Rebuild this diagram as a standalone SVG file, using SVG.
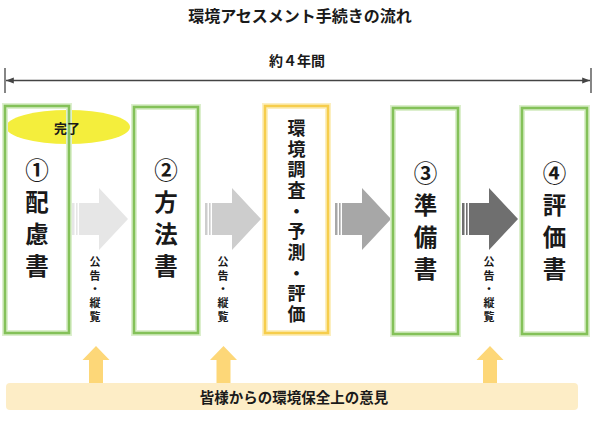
<svg xmlns="http://www.w3.org/2000/svg" width="600" height="423" viewBox="0 0 600 423">
<style>
text{font-family:"Noto Sans CJK JP","Noto Sans",sans-serif;font-weight:bold;fill:#1a1a1a;text-anchor:middle;dominant-baseline:central}
.v{writing-mode:vertical-rl;text-anchor:start;text-orientation:upright}
.glow{fill:none;stroke-width:6}
.g{stroke:#dcefcd}
.y{stroke:#fcefc0}
.gb{fill:none;stroke:#84c159;stroke-width:2.6}
.yb{fill:none;stroke:#f6cd4c;stroke-width:2.6}
.big{font-size:23.5px;letter-spacing:8.5px}
.mid{font-size:18px;letter-spacing:2.7px}
.sm{font-size:11px;letter-spacing:2.6px}
.up{fill:#fdd778}
</style>
<defs>
<g id="sarrow">
<rect x="0" y="-16" width="2.5" height="32"/>
<rect x="4" y="-16" width="1.6" height="32"/>
<path d="M7,-16 H27 V-31 L56,0 L27,31 V16 H7 Z"/>
</g>
<path id="uparrow" d="M-7,0 V-23 H-13.5 L0,-37 L13.5,-23 H7 V0 Z"/>
<marker id="dimhead" viewBox="0 0 8 8" refX="8" refY="4" markerWidth="6" markerHeight="6" orient="auto-start-reverse">
<path d="M0,1 L8,4 L0,7 Z" fill="#444"/>
</marker>
</defs>
<rect width="600" height="423" fill="#fff"/>
<g id="title"><text x="300" y="15" style="font-size:16px">環境アセスメント手続きの流れ</text></g>
<g id="duration">
<text x="297" y="60" style="font-size:14px">約４年間</text>
<line x1="6" y1="80.5" x2="590" y2="80.5" stroke="#444" stroke-width="1.3" marker-start="url(#dimhead)" marker-end="url(#dimhead)"/>
<line x1="5" y1="68" x2="5" y2="93" stroke="#444" stroke-width="1.3"/>
<line x1="591" y1="68" x2="591" y2="93" stroke="#444" stroke-width="1.3"/>
</g>
<g id="connectors">
<use href="#sarrow" transform="translate(72,219)" fill="#e6e6e6"/>
<use href="#sarrow" transform="translate(205,219)" fill="#cdcdcd"/>
<use href="#sarrow" transform="translate(335,219)" fill="#a7a7a7"/>
<use href="#sarrow" transform="translate(462,219)" fill="#6f6f6f"/>
<text class="v sm" x="95" y="256.5">公告・縦覧</text>
<text class="v sm" x="223" y="256.5">公告・縦覧</text>
<text class="v sm" x="489" y="256.5">公告・縦覧</text>
<use href="#uparrow" class="up" transform="translate(96,383)"/>
<use href="#uparrow" class="up" transform="translate(223.5,383)"/>
<use href="#uparrow" class="up" transform="translate(490,383)"/>
</g>
<g id="node-hairyo">
<ellipse cx="68" cy="127" rx="62" ry="17" fill="#f4ee3c"/>
<rect class="glow g" x="5" y="106" width="64" height="227"/>
<rect class="gb" x="5" y="106" width="64" height="227"/>
<text x="67" y="127" style="font-size:13px">完了</text>
<text class="v big" x="37" y="158">①配慮書</text>
</g>
<g id="node-houhou">
<rect class="glow g" x="134" y="107" width="64" height="226"/>
<rect class="gb" x="134" y="107" width="64" height="226"/>
<text class="v big" x="166" y="158">②方法書</text>
</g>
<g id="node-chousa">
<rect class="glow y" x="265" y="106" width="63" height="227"/>
<rect class="yb" x="265" y="106" width="63" height="227"/>
<text class="v mid" x="296.5" y="119">環境調査・予測・評価</text>
</g>
<g id="node-junbi">
<rect class="glow g" x="393" y="108" width="65" height="226"/>
<rect class="gb" x="393" y="108" width="65" height="226"/>
<text class="v big" x="425.5" y="161">③準備書</text>
</g>
<g id="node-hyouka">
<rect class="glow g" x="522" y="108" width="65" height="226"/>
<rect class="gb" x="522" y="108" width="65" height="226"/>
<text class="v big" x="554.5" y="161">④評価書</text>
</g>
<g id="node-iken">
<rect x="6" y="383" width="572" height="27" rx="4" fill="#fdedc6"/>
<text x="294" y="396" style="font-size:14.5px">皆様からの環境保全上の意見</text>
</g>
</svg>
